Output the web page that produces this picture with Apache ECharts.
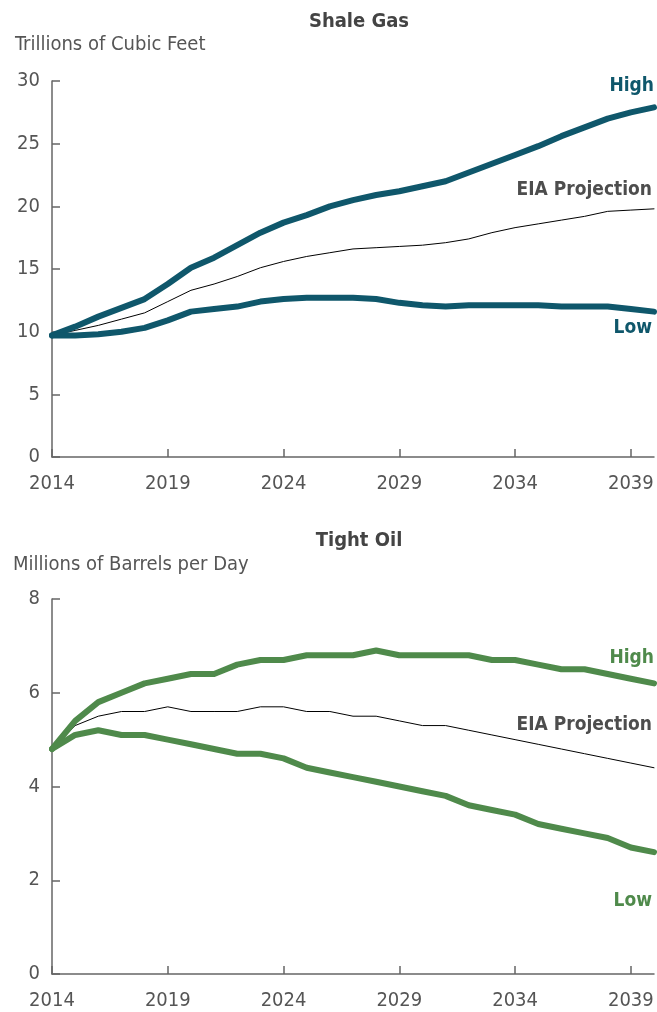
<!DOCTYPE html>
<html>
<head>
<meta charset="utf-8">
<script src="https://cdn.jsdelivr.net/npm/echarts@6/dist/echarts.min.js"></script>
<style>
  html, body { margin: 0; padding: 0; background: #fff; }
  #main { width: 657px; height: 1012px; }
</style>
</head>
<body>
<div id="main"></div>
<script>
// years on the x axis
var years = [];
for (var y = 2014; y <= 2040; y++) years.push(String(y));

// Shale gas, trillions of cubic feet
var gasHigh = [9.7, 10.4, 11.2, 11.9, 12.6, 13.8, 15.1, 15.9, 16.9, 17.9, 18.7, 19.3, 20.0,
  20.5, 20.9, 21.2, 21.6, 22.0, 22.7, 23.4, 24.1, 24.8, 25.6, 26.3, 27.0, 27.5, 27.9];
var gasEIA = [9.7, 10.1, 10.5, 11.0, 11.5, 12.4, 13.3, 13.8, 14.4, 15.1, 15.6, 16.0, 16.3,
  16.6, 16.7, 16.8, 16.9, 17.1, 17.4, 17.9, 18.3, 18.6, 18.9, 19.2, 19.6, 19.7, 19.8];
var gasLow = [9.7, 9.7, 9.8, 10.0, 10.3, 10.9, 11.6, 11.8, 12.0, 12.4, 12.6, 12.7, 12.7,
  12.7, 12.6, 12.3, 12.1, 12.0, 12.1, 12.1, 12.1, 12.1, 12.0, 12.0, 12.0, 11.8, 11.6];

// Tight oil, millions of barrels per day
var oilHigh = [4.8, 5.4, 5.8, 6.0, 6.2, 6.3, 6.4, 6.4, 6.6, 6.7, 6.7, 6.8, 6.8,
  6.8, 6.9, 6.8, 6.8, 6.8, 6.8, 6.7, 6.7, 6.6, 6.5, 6.5, 6.4, 6.3, 6.2];
var oilEIA = [4.8, 5.3, 5.5, 5.6, 5.6, 5.7, 5.6, 5.6, 5.6, 5.7, 5.7, 5.6, 5.6,
  5.5, 5.5, 5.4, 5.3, 5.3, 5.2, 5.1, 5.0, 4.9, 4.8, 4.7, 4.6, 4.5, 4.4];
var oilLow = [4.8, 5.1, 5.2, 5.1, 5.1, 5.0, 4.9, 4.8, 4.7, 4.7, 4.6, 4.4, 4.3,
  4.2, 4.1, 4.0, 3.9, 3.8, 3.6, 3.5, 3.4, 3.2, 3.1, 3.0, 2.9, 2.7, 2.6];

var teal = "#0f576b";
var green = "#4f8a4b";
var grey = "#555555";
var font = "'Liberation Sans Narrow', 'DejaVu Sans Condensed', 'Liberation Sans', sans-serif";

function xAxis(idx) {
  return {
    type: "category",
    gridIndex: idx,
    data: years,
    boundaryGap: false,
    axisLine: { lineStyle: { color: "#666", width: 1.5 } },
    axisTick: { inside: true, length: 8, interval: 4, lineStyle: { color: "#666", width: 1.5 } },
    axisLabel: { interval: 4, margin: 17, color: grey, fontSize: 20, fontFamily: font },
    splitLine: { show: false }
  };
}
function yAxis(idx, max, step) {
  return {
    type: "value",
    gridIndex: idx,
    min: 0,
    max: max,
    interval: step,
    axisLine: { show: true, lineStyle: { color: "#666", width: 1.5 } },
    axisTick: { show: true, inside: true, length: 8, lineStyle: { color: "#666", width: 1.5 } },
    axisLabel: { margin: 12, color: grey, fontSize: 20, fontFamily: font },
    splitLine: { show: false }
  };
}
function line(name, data, idx, color, width) {
  return {
    name: name,
    type: "line",
    xAxisIndex: idx,
    yAxisIndex: idx,
    data: data,
    symbol: "none",
    lineStyle: { color: color, width: width, join: "round", cap: "round" },
    z: width > 2 ? 3 : 2
  };
}
function label(text, right, top, color) {
  return {
    type: "text",
    right: right,
    top: top,
    style: { text: text, fill: color, font: "bold 19px " + font }
  };
}

var myChart = echarts.init(document.getElementById("main"));
myChart.setOption({
  animation: false,
  title: [
    { text: "Shale Gas", left: 354, top: 7, textAlign: "center",
      textStyle: { fontSize: 20, fontWeight: "bold", color: "#444", fontFamily: font } },
    { text: "Trillions of Cubic Feet", left: 10, top: 30,
      textStyle: { fontSize: 20, fontWeight: "normal", color: grey, fontFamily: font } },
    { text: "Tight Oil", left: 354, top: 526, textAlign: "center",
      textStyle: { fontSize: 20, fontWeight: "bold", color: "#444", fontFamily: font } },
    { text: "Millions of Barrels per Day", left: 8, top: 550,
      textStyle: { fontSize: 20, fontWeight: "normal", color: grey, fontFamily: font } }
  ],
  grid: [
    { left: 52, right: 3, top: 81, height: 376 },
    { left: 52, right: 3, top: 599, height: 375 }
  ],
  xAxis: [xAxis(0), xAxis(1)],
  yAxis: [yAxis(0, 30, 5), yAxis(1, 8, 2)],
  series: [
    line("High", gasHigh, 0, teal, 6),
    line("EIA Projection", gasEIA, 0, "#000", 1),
    line("Low", gasLow, 0, teal, 6),
    line("High", oilHigh, 1, green, 6),
    line("EIA Projection", oilEIA, 1, "#000", 1),
    line("Low", oilLow, 1, green, 6)
  ],
  graphic: [
    label("High", 3, 77, teal),
    label("EIA Projection", 5, 181, "#4d4d4d"),
    label("Low", 5, 319, teal),
    label("High", 3, 649, green),
    label("EIA Projection", 5, 716, "#4d4d4d"),
    label("Low", 5, 892, green)
  ]
});
</script>
</body>
</html>
